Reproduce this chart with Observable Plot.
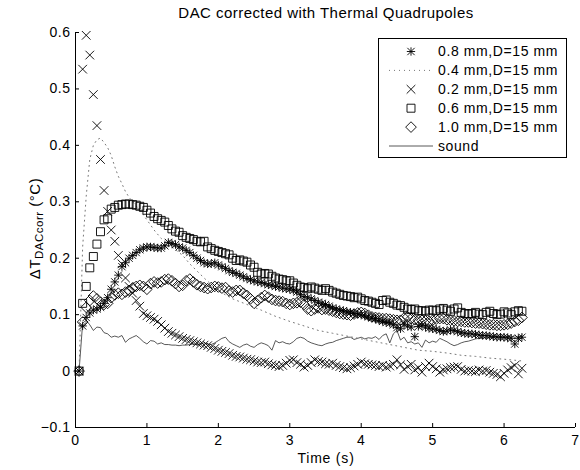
<!DOCTYPE html>
<html><head><meta charset="utf-8">
<script src="https://cdn.jsdelivr.net/npm/d3@7"></script>
<script src="https://cdn.jsdelivr.net/npm/@observablehq/plot@0.6"></script>
<style>
body{margin:0;background:#fff;}
#chart{position:relative;width:580px;height:470px;}
</style></head><body><div id="chart"></div>
<script>
const titleText = "DAC corrected with Thermal Quadrupoles";
const xLabel = "Time (s)";
const seriesNames = ["0.8 mm,D=15 mm", "0.4 mm,D=15 mm", "0.2 mm,D=15 mm", "0.6 mm,D=15 mm", "1.0 mm,D=15 mm", "sound"];
const xTicks = [0, 1, 2, 3, 4, 5, 6, 7];
const yTicks = [-0.1, 0, 0.1, 0.2, 0.3, 0.4, 0.5, 0.6];
const yTickLabels = ["\u22120.1", "0", "0.1", "0.2", "0.3", "0.4", "0.5", "0.6"];

const time = [
  0.05,0.10,0.15,0.20,0.25,0.30,0.35,0.40,0.45,0.50,
  0.55,0.60,0.65,0.70,0.75,0.80,0.85,0.90,0.95,1.00,
  1.05,1.10,1.15,1.20,1.25,1.30,1.35,1.40,1.45,1.50,
  1.55,1.60,1.65,1.70,1.75,1.80,1.85,1.90,1.95,2.00,
  2.05,2.10,2.15,2.20,2.25,2.30,2.35,2.40,2.45,2.50,
  2.55,2.60,2.65,2.70,2.75,2.80,2.85,2.90,2.95,3.00,
  3.05,3.10,3.15,3.20,3.25,3.30,3.35,3.40,3.45,3.50,
  3.55,3.60,3.65,3.70,3.75,3.80,3.85,3.90,3.95,4.00,
  4.05,4.10,4.15,4.20,4.25,4.30,4.35,4.40,4.45,4.50,
  4.55,4.60,4.65,4.70,4.75,4.80,4.85,4.90,4.95,5.00,
  5.05,5.10,5.15,5.20,5.25,5.30,5.35,5.40,5.45,5.50,
  5.55,5.60,5.65,5.70,5.75,5.80,5.85,5.90,5.95,6.00,
  6.05,6.10,6.15,6.20,6.25];

// 0.8 mm (asterisks)
const s08 = [
  0,.08,.095,.103,.108,.11,.113,.12,.13,.145,
  .158,.17,.185,.192,.2,.205,.21,.215,.218,.22,
  .22,.219,.218,.218,.222,.228,.226,.224,.22,.218,
  .214,.21,.205,.2,.196,.192,.19,.19,.192,.188,
  .185,.182,.178,.175,.173,.17,.167,.164,.162,.16,
  .158,.157,.155,.153,.152,.15,.149,.147,.146,.145,
  .143,.14,.136,.132,.13,.128,.125,.122,.12,.118,
  .115,.112,.11,.108,.107,.105,.104,.102,.101,.1,
  .098,.096,.094,.093,.09,.088,.086,.085,.082,.077,
  .075,.083,.08,.078,.061,.079,.081,.078,.076,.075,
  .074,.072,.07,.071,.073,.072,.07,.068,.067,.066,
  .066,.065,.064,.063,.063,.062,.061,.06,.06,.06,
  .059,.058,.048,.058,.06];

// 0.2 mm (crosses)
const s02 = [
  0,.535,.595,.56,.49,.435,.375,.32,.283,.25,
  .23,.205,.19,.165,.15,.138,.125,.115,.102,.098,
  .095,.092,.088,.082,.076,.07,.067,.064,.061,.058,
  .056,.054,.052,.05,.048,.046,.045,.042,.04,.037,
  .035,.033,.031,.028,.026,.025,.023,.021,.02,.018,
  .016,.015,.016,.013,.011,.01,.008,.01,.014,.019,
  .02,.015,.012,.007,.01,.015,.02,.017,.016,.013,
  .012,.014,.01,.008,.006,.004,.006,.009,.012,.016,
  .013,.012,.011,.01,.008,.01,.007,.009,.012,.02,
  .011,.003,.008,.012,.002,.006,-.002,.008,.014,.008,
  .004,-.002,.002,.004,.006,.007,.008,.003,0,.001,
  0,-.001,.002,0,.001,-.002,-.004,-.006,-.01,-.004,
  .002,.006,.01,-.005,.005];

// 0.6 mm (squares)
const s06 = [
  0,.12,.15,.183,.203,.225,.247,.268,.27,.287,
  .29,.294,.295,.296,.296,.295,.294,.292,.29,.285,
  .28,.274,.27,.267,.264,.258,.252,.248,.246,.24,
  .237,.235,.233,.23,.229,.23,.22,.217,.214,.212,
  .21,.208,.206,.2,.196,.197,.195,.193,.188,.184,
  .175,.172,.173,.172,.168,.165,.163,.162,.16,.16,
  .156,.152,.149,.148,.146,.149,.147,.145,.143,.146,
  .143,.14,.138,.136,.134,.133,.132,.13,.131,.128,
  .125,.124,.122,.12,.118,.125,.126,.122,.12,.117,
  .116,.113,.11,.109,.11,.107,.107,.106,.108,.108,
  .107,.11,.111,.108,.106,.11,.112,.104,.102,.101,
  .102,.104,.101,.1,.104,.106,.102,.1,.101,.105,
  .103,.1,.105,.107,.106];

// 1.0 mm (diamonds)
const s10 = [
  0,.087,.113,.125,.133,.128,.122,.118,.12,.13,
  .135,.138,.136,.14,.143,.147,.15,.152,.15,.145,
  .155,.158,.156,.158,.162,.163,.16,.155,.15,.152,
  .16,.163,.158,.153,.15,.148,.146,.148,.15,.149,
  .147,.148,.142,.14,.143,.143,.138,.134,.128,.12,
  .125,.13,.134,.131,.127,.125,.124,.123,.12,.118,
  .12,.121,.122,.118,.11,.107,.11,.112,.109,.11,
  .108,.106,.104,.102,.101,.1,.099,.101,.103,.104,
  .102,.099,.096,.095,.094,.093,.093,.092,.091,.09,
  .09,.094,.096,.093,.091,.09,.09,.089,.088,.09,
  .092,.093,.093,.091,.09,.089,.088,.088,.087,.087,
  .086,.085,.085,.084,.083,.082,.082,.081,.081,.082,
  .083,.085,.088,.09,.095];

// sound (solid line)
const sSound = [
  0,.085,.09,.082,.072,.078,.077,.068,.066,.06,
  .062,.06,.063,.051,.057,.06,.063,.058,.052,.048,
  .054,.053,.048,.05,.047,.047,.046,.046,.045,.046,
  .046,.047,.048,.047,.048,.05,.048,.047,.05,.054,
  .058,.06,.052,.048,.045,.042,.046,.048,.044,.042,
  .047,.05,.048,.045,.037,.054,.05,.052,.049,.048,
  .052,.058,.06,.058,.053,.05,.048,.046,.045,.048,
  .05,.051,.054,.056,.058,.06,.06,.056,.058,.06,
  .057,.059,.058,.061,.056,.063,.066,.05,.066,.072,
  .055,.06,.05,.052,.048,.05,.042,.055,.05,.053,
  .051,.058,.055,.052,.048,.045,.047,.05,.052,.053,
  .055,.057,.058,.058,.06,.059,.06,.062,.061,.06,
  .061,.062,.06,.061,.062];

// 0.4 mm (dotted line), read at its own times
const tDot = [0.05,0.1,0.15,0.2,0.25,0.3,0.35,0.4,0.45,0.5,0.55,0.6,0.65,0.7,0.75,0.8,
  0.9,1.0,1.1,1.2,1.3,1.4,1.5,1.6,1.8,2.0,2.2,2.4,2.6,2.8,3.0,
  3.2,3.4,3.6,3.8,4.0,4.2,4.4,4.6,4.8,5.0,5.2,5.4,5.6,5.8,6.0,6.25];
const s04 = [0,.22,.31,.375,.4,.41,.413,.405,.396,.382,.362,.345,.332,.318,.308,.3,
  .285,.268,.25,.235,.225,.215,.205,.19,.165,.142,.128,.118,.108,.097,.088,
  .08,.072,.067,.062,.057,.052,.047,.042,.037,.035,.032,.028,.026,.023,.021,.018];

const pts = vals => time.map((t, i) => ({t, v: vals[i]}));
const dotted = tDot.map((t, i) => ({t, v: s04[i]}));

const FONT = "'Liberation Sans', Arial, Helvetica, sans-serif";
const SW = 0.9;
const R = {plus: 2.8, astx: 3.4, times: 4, square: 4.5, diamond: 4.8};
const DOT_DASH = "1,4";
const DOT_COLOR = "#777";

const plot = Plot.plot({
  width: 580, height: 470,
  marginLeft: 75, marginRight: 5, marginTop: 32, marginBottom: 43,
  style: {fontFamily: FONT, fontSize: "14px", background: "white", overflow: "visible", color: "black", letterSpacing: "0.5px"},
  x: {domain: [0, 7]},
  y: {domain: [-0.1, 0.6]},
  marks: [
    Plot.ruleX([0], {stroke: "black", strokeWidth: 1}),
    Plot.ruleY([-0.1], {stroke: "black", strokeWidth: 1}),
    Plot.axisX(xTicks, {tickSize: -4, tickPadding: 12, label: null, fontSize: 14, tickFormat: d => String(d)}),
    Plot.axisY(yTicks, {tickSize: -4, tickPadding: 9, label: null, fontSize: 14, tickFormat: d => yTickLabels[yTicks.indexOf(d)]}),
    Plot.line(pts(sSound), {x: "t", y: "v", stroke: "#222", strokeWidth: 0.75}),
    Plot.line(dotted, {x: "t", y: "v", stroke: DOT_COLOR, strokeWidth: 1, strokeDasharray: DOT_DASH}),
    Plot.dot(pts(s08), {x: "t", y: "v", symbol: "plus", r: R.plus, stroke: "black", strokeWidth: SW}),
    Plot.dot(pts(s08), {x: "t", y: "v", symbol: "times", r: R.astx, stroke: "black", strokeWidth: SW}),
    Plot.dot(pts(s02), {x: "t", y: "v", symbol: "times", r: R.times, stroke: "black", strokeWidth: SW}),
    Plot.dot(pts(s06), {x: "t", y: "v", symbol: "square", r: R.square, fill: "none", stroke: "black", strokeWidth: SW}),
    Plot.dot(pts(s10), {x: "t", y: "v", symbol: "diamond2", r: R.diamond, fill: "none", stroke: "black", strokeWidth: SW})
  ]
});
document.getElementById("chart").appendChild(plot);

const svg = d3.select(plot);
// title
svg.append("text").attr("x", 326).attr("y", 18).attr("text-anchor", "middle")
  .attr("font-family", FONT).attr("font-size", 15).attr("letter-spacing", "0.45px").attr("fill", "black").text(titleText);
// x label
svg.append("text").attr("x", 326).attr("y", 463).attr("text-anchor", "middle")
  .attr("font-family", FONT).attr("font-size", 14).attr("letter-spacing", "0.8px").attr("fill", "black").text(xLabel);
// y label with subscript
const yl = svg.append("text").attr("transform", "translate(39.5,228.5) rotate(-90)").attr("text-anchor", "middle")
  .attr("font-family", FONT).attr("font-size", 15).attr("letter-spacing", "0.5px").attr("fill", "black");
yl.append("tspan").text("\u0394T");
yl.append("tspan").attr("font-size", 11.5).attr("dy", 3).text("DACcorr");
yl.append("tspan").attr("dy", -3).text(" (\u00B0C)");

// legend
const lg = svg.append("g").attr("font-family", FONT).attr("font-size", 14).attr("letter-spacing", "0.6px");
lg.append("rect").attr("x", 378.5).attr("y", 38.5).attr("width", 188).attr("height", 119)
  .attr("fill", "white").attr("stroke", "black").attr("stroke-width", 1);
const sym = (type, r) => d3.symbol(type, Math.PI * r * r)();
seriesNames.forEach((name, i) => {
  const cy = 51.5 + i * 18.9;
  const g = lg.append("g").attr("transform", `translate(411,${cy})`);
  const addPath = d => g.append("path").attr("d", d).attr("fill", "none").attr("stroke", "black").attr("stroke-width", SW);
  if (i === 0) { addPath(sym(d3.symbolPlus, R.plus)); addPath(sym(d3.symbolTimes, R.astx)); }
  if (i === 2) addPath(sym(d3.symbolTimes, R.times));
  if (i === 3) addPath(sym(d3.symbolSquare, R.square));
  if (i === 4) addPath(sym(d3.symbolDiamond2, R.diamond));
  if (i === 1) g.append("line").attr("x1", -22).attr("x2", 22).attr("stroke", DOT_COLOR).attr("stroke-dasharray", DOT_DASH);
  if (i === 5) g.append("line").attr("x1", -22).attr("x2", 22).attr("stroke", "#222").attr("stroke-width", 0.75);
  lg.append("text").attr("x", 438).attr("y", cy).attr("dy", "0.35em").attr("text-anchor", "start").attr("fill", "black").text(name);
});
</script></body></html>
